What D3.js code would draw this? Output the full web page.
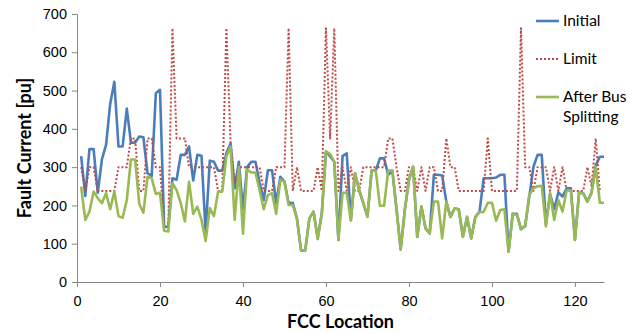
<!DOCTYPE html>
<html>
<head>
<meta charset="utf-8">
<script src="https://cdn.jsdelivr.net/npm/d3@7"></script>
<style>
  body { margin: 0; background: #fff; }
  svg { font-family: Lato, "Liberation Sans", sans-serif; }
</style>
</head>
<body>
<div id="chart"></div>
<script>
// fault current per FCC location (1..127)
const initial = [
  329, 225, 347, 347, 233, 320, 358, 465, 523, 354,
  354, 453, 364, 364, 380, 378, 284, 277, 493, 502,
  145, 143, 271, 267, 332, 332, 354, 265, 332, 330,
  129, 317, 314, 291, 291, 336, 362, 245, 314, 190,
  300, 314, 314, 260, 214, 292, 292, 205, 275, 262,
  206, 207, 166, 82, 82, 166, 184, 114, 180, 341,
  328, 314, 110, 329, 336, 162, 284, 240, 206, 171,
  291, 291, 323, 323, 280, 290, 190, 85, 188, 267,
  301, 118, 197, 140, 127, 280, 280, 278, 210, 170,
  192, 190, 118, 170, 114, 170, 183, 271, 271, 271,
  273, 280, 280, 79, 178, 178, 138, 146, 223, 301,
  332, 332, 150, 230, 190, 234, 223, 245, 245, 110,
  234, 232, 210, 234, 304, 327, 327
];

const limit = [
  300, 238, 300, 300, 238, 238, 238, 238, 238, 300,
  300, 300, 375, 375, 238, 238, 375, 375, 300, 300,
  145, 145, 663, 375, 375, 375, 300, 300, 300, 300,
  300, 300, 300, 238, 238, 663, 367, 258, 300, 300,
  300, 300, 300, 300, 238, 238, 238, 300, 300, 300,
  663, 238, 300, 238, 238, 238, 238, 300, 238, 663,
  375, 663, 238, 300, 238, 300, 238, 238, 300, 300,
  300, 300, 300, 300, 375, 375, 300, 238, 238, 300,
  300, 238, 300, 238, 300, 300, 238, 238, 375, 300,
  300, 238, 238, 238, 238, 238, 238, 238, 375, 238,
  238, 238, 238, 238, 238, 238, 663, 300, 300, 238,
  300, 300, 300, 238, 300, 238, 300, 238, 238, 238,
  238, 238, 300, 250, 375, 238
];

const afterSplit = [
  249, 162, 184, 236, 219, 206, 232, 190, 236, 172,
  168, 214, 320, 320, 204, 181, 275, 271, 230, 233,
  134, 132, 258, 240, 206, 158, 262, 178, 197, 162,
  107, 193, 172, 236, 236, 328, 354, 162, 301, 126,
  294, 286, 286, 240, 190, 227, 232, 178, 267, 262,
  201, 201, 166, 82, 82, 166, 184, 112, 180, 341,
  334, 314, 110, 233, 233, 160, 284, 240, 206, 171,
  291, 291, 199, 199, 291, 291, 190, 85, 188, 267,
  301, 118, 197, 140, 127, 210, 210, 114, 210, 170,
  192, 190, 118, 170, 114, 170, 183, 183, 207, 207,
  160, 188, 190, 79, 178, 175, 138, 146, 228, 245,
  250, 251, 145, 232, 162, 214, 184, 239, 239, 110,
  234, 231, 210, 232, 301, 207, 207
];

const seriesNames = ['Initial', 'Limit', 'After Bus Splitting'];
const xTicks = [0, 20, 40, 60, 80, 100, 120];
const yTicks = [0, 100, 200, 300, 400, 500, 600, 700];

const series = [
  { name: seriesNames[0], values: initial, color: '#4A7EBB', width: 2.6, dash: null },
  { name: seriesNames[1], values: limit, color: '#BE4B48', width: 2, dash: '2,2' },
  { name: seriesNames[2], values: afterSplit, color: '#98B954', width: 2.6, dash: null }
];

const W = 636, H = 334;
const svg = d3.select('#chart').append('svg').attr('width', W).attr('height', H);

const x = d3.scaleLinear().domain([0, 127]).range([77, 604]);
const y = d3.scaleLinear().domain([0, 700]).range([282, 14]);

const axisColor = '#868686';

// y axis
const gy = svg.append('g')
  .attr('transform', `translate(${x(0)},0)`)
  .call(d3.axisLeft(y).tickValues(yTicks).tickSize(5).tickSizeOuter(0).tickPadding(5));
gy.selectAll('text').attr('font-size', 14.5).attr('fill', '#000');

// x axis
const gx = svg.append('g')
  .attr('transform', `translate(0,${y(0)})`)
  .call(d3.axisBottom(x).tickValues(xTicks).tickSize(5).tickSizeOuter(0).tickPadding(9));
gx.selectAll('text').attr('font-size', 14.5).attr('fill', '#000');

svg.selectAll('.domain, .tick line').attr('stroke', axisColor);

// lines
const line = d3.line()
  .x((d, i) => x(i + 1))
  .y(d => y(d));

svg.append('g').selectAll('path')
  .data(series)
  .join('path')
  .attr('d', d => line(d.values))
  .attr('fill', 'none')
  .attr('stroke', d => d.color)
  .attr('stroke-width', d => d.width)
  .attr('stroke-dasharray', d => d.dash)
  .attr('stroke-linejoin', 'round');

// axis titles
svg.append('text')
  .attr('x', (x(0) + x(127)) / 2)
  .attr('y', 328)
  .attr('text-anchor', 'middle')
  .attr('font-size', 18)
  .attr('font-weight', 'bold')
  .text('FCC Location');

svg.append('text')
  .attr('transform', `translate(31,${(y(0) + y(700)) / 2}) rotate(-90)`)
  .attr('text-anchor', 'middle')
  .attr('font-size', 18)
  .attr('font-weight', 'bold')
  .text('Fault Current [pu]');

// legend
const legendRows = [21, 59, 97];
const legend = svg.append('g').selectAll('g')
  .data(series)
  .join('g')
  .attr('transform', (d, i) => `translate(536,${legendRows[i]})`);

legend.append('line')
  .attr('x1', 0).attr('x2', 23)
  .attr('stroke', d => d.color)
  .attr('stroke-width', d => d.width)
  .attr('stroke-dasharray', d => d.dash);

legend.append('text')
  .attr('font-size', 15.5)
  .each(function (d) {
    const words = d.name === 'After Bus Splitting' ? ['After Bus', 'Splitting'] : [d.name];
    d3.select(this).selectAll('tspan')
      .data(words)
      .join('tspan')
      .attr('x', 27)
      .attr('dy', (w, j) => j === 0 ? '0.35em' : '1.25em')
      .text(w => w);
  });
</script>
</body>
</html>
